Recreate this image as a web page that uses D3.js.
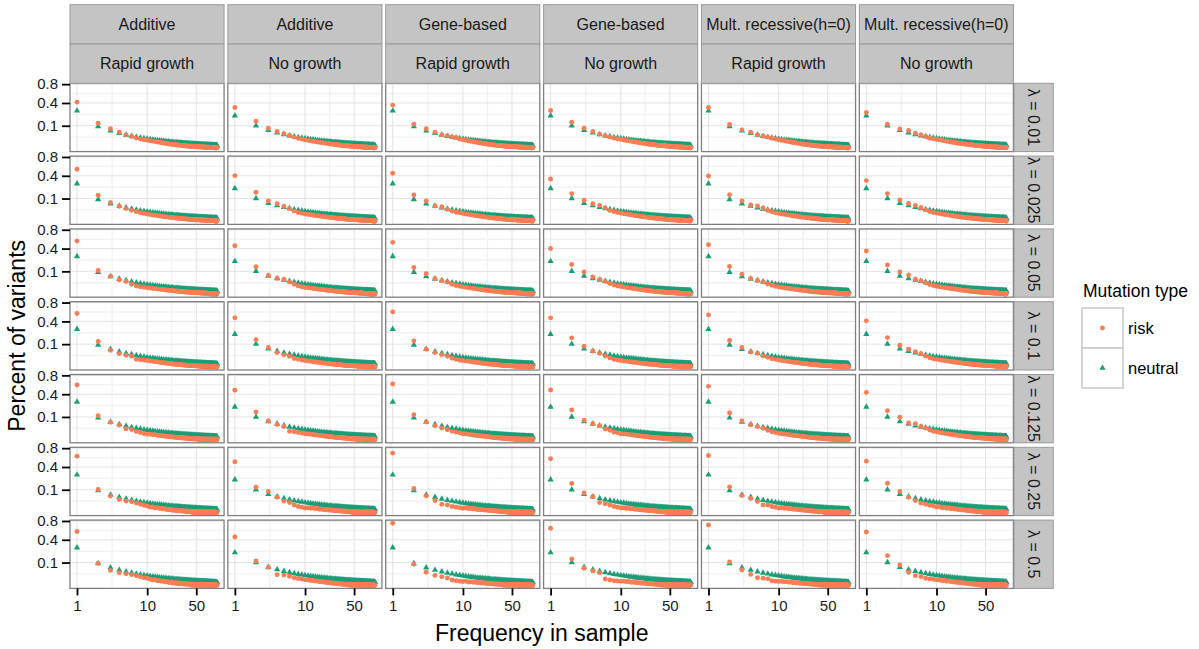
<!DOCTYPE html>
<html>
<head>
<meta charset="utf-8">
<script src="https://cdn.jsdelivr.net/npm/d3@7"></script>
<style>
  body { margin: 0; background: #fff; }
  svg { display: block; font-family: "Liberation Sans", Arial, Helvetica, sans-serif; }
</style>
</head>
<body>
<div id="chart"></div>
<script>
// facet labels
var models = ["Additive", "Additive", "Gene-based", "Gene-based", "Mult. recessive(h=0)", "Mult. recessive(h=0)"];
var growth = ["Rapid growth", "No growth", "Rapid growth", "No growth", "Rapid growth", "No growth"];
var lambdas = ["0.01", "0.025", "0.05", "0.1", "0.125", "0.25", "0.5"];
var types = ["risk", "neutral"];
var xTicks = [1, 10, 50];
var yTicks = [0.1, 0.4, 0.8];

// share of variants x 10000, first value = frequency 1
var neutralRapid = [2750,930,605,450,360,298,255,222,197,177, 161,147,136,126,117,110,103,98,92,88, 84,80,77,73,70,68,65,63,61,59, 57,55,53,52,50,49,48,46,45,44, 43,42,41,40,39,38,37,37,36,35, 34,34,33,33,32,31,31,30,30,29, 29,28,28,27,27,26,26,26,25,25, 25,24,24,24,23,23,23,22,22,22, 21,21,21,21,20,20,20,20,19,19, 19,19,19,18,18,18,18,18,17];
var neutralNoGrowth = [2080,1010,640,480,385,320,275,240,214,193, 175,161,148,138,129,121,113,107,102,97, 92,88,84,80,77,74,71,69,67,64, 62,60,58,57,55,54,52,51,49,48, 47,46,45,44,43,42,41,40,39,39, 38,37,36,36,35,34,34,33,33,32, 32,31,31,30,30,29,29,28,28,28, 27,27,26,26,26,25,25,25,24,24, 24,23,23,23,23,22,22,22,22,21, 21,21,21,20,20,20,20,20,19];

// risk variants x 10000, one row per lambda
var riskAdditiveRapid = [
  [4160,1240,750,510,360,280,210,170,150,135, 118,104,92,82,73,65,58,52,47,43, 39,36,33,30,28,26,24,22,21,19, 18,17,16,15,14,13,12,12,11,10, 10,9,9,8,8,8,7,7,7,6, 6,6,6,5,5,5,5,5,4,4, 4,4,4,4,4,3,3,3,3,3, 3,3,3,3,3,3,2,2,2,2, 2,2,2,2,2,2,2,2,2,2, 2,1,1,1,1,1,1,1,1],
  [5230,1310,670,430,310,230,180,145,120,100, 88,78,70,62,56,50,45,41,37,34, 31,28,26,24,22,20,19,17,16,15, 14,13,12,11,11,10,9,9,8,8, 7,7,7,6,6,6,5,5,5,5, 4,4,4,4,4,3,3,3,3,3, 3,3,3,2,3,2,2,2,2,2, 2,2,2,2,1,2,1,1,2,1, 1,1,1,1,1,1,1,1,1,1, 1,1,0,1,1,0,1,0,1],
  [5430,1080,620,400,310,190,125,105,90,75, 70,62,58,50,47,41,40,34,31,29, 26,25,22,21,19,18,16,15,14,13, 12,12,11,10,9,9,8,8,7,7, 6,6,6,5,5,5,4,4,4,4, 3,4,3,3,3,3,2,3,2,2, 2,2,2,2,2,1,2,1,1,2, 1,1,1,1,1,1,1,0,1,1, 1,0,1,0,1,0,1,0,0,1, 0,1,0,0,1,0,0,0,1],
  [5500,1240,540,340,260,220,110,100,90,80, 68,62,52,48,40,37,32,30,26,24, 21,20,17,16,14,14,12,11,10,9, 9,8,7,7,6,6,5,5,4,4, 4,4,3,3,3,3,2,3,2,2, 2,2,2,1,2,1,1,2,1,1, 1,1,1,0,1,1,0,1,0,1, 0,1,0,0,1,0,0,1,0,0, 1,0,0,0,1,0,0,0,0,1, 0,0,0,1,0,0,0,0,0],
  [5790,1110,580,420,230,200,130,100,75,55, 60,48,50,38,36,30,28,22,24,18, 17,16,13,14,11,10,10,8,9,7, 6,7,5,6,4,5,4,3,4,3, 3,2,3,2,2,3,1,2,1,2, 1,1,2,1,0,1,1,0,1,1, 0,1,0,1,0,0,1,0,0,1, 0,0,1,0,0,0,1,0,0,0, 1,0,0,0,0,1,0,0,0,0, 0,1,0,0,0,0,0,1,0],
  [6140,1020,530,330,250,220,170,130,100,80, 55,60,40,46,30,35,22,28,18,20, 14,16,10,12,8,11,6,9,5,7, 4,6,3,5,2,4,3,2,1,3, 2,1,2,0,1,2,0,1,0,1, 2,0,0,1,0,1,0,0,2,0, 0,1,0,0,0,1,0,0,1,0, 0,0,1,0,0,0,0,1,0,0, 0,1,0,0,0,0,1,0,0,0, 0,0,1,0,0,0,0,0,0],
  [5580,940,430,310,260,220,180,145,110,95, 70,55,60,40,45,30,35,22,28,18, 15,20,10,14,8,12,6,10,5,9, 4,7,3,6,2,5,3,4,1,3, 2,3,0,2,1,0,2,0,1,0, 0,2,0,1,0,0,1,0,0,2, 0,0,1,0,0,0,1,0,0,0, 1,0,0,0,0,1,0,0,0,0, 0,0,1,0,0,0,0,0,1,0, 0,0,0,0,1,0,0,0,0]
];
var riskAdditiveNoGrowth = [
  [3250,1440,800,560,420,330,250,200,170,145, 128,113,101,91,82,74,67,61,56,51, 47,43,40,37,34,32,30,28,26,24, 23,21,20,19,18,17,16,15,14,13, 13,12,11,11,10,10,9,9,8,8, 8,7,7,7,6,6,6,6,5,5, 5,5,5,4,4,4,4,4,4,3, 3,3,3,3,3,3,3,3,2,2, 2,2,2,2,2,2,2,2,2,2, 2,2,1,1,1,1,1,1,1],
  [4030,1630,800,600,420,310,200,150,125,100, 92,82,74,66,60,54,49,44,40,37, 34,31,28,26,24,22,21,19,18,17, 15,14,14,13,12,11,10,10,9,9, 8,8,7,7,7,6,6,6,5,5, 5,5,4,4,4,4,4,3,3,3, 3,3,3,3,2,2,2,2,2,2, 2,2,2,2,2,1,2,1,1,1, 1,1,1,1,1,1,1,1,1,1, 1,1,1,0,1,1,0,1,0],
  [4520,1440,670,490,420,280,190,130,105,85, 78,70,62,56,50,46,41,38,34,31, 28,26,24,22,20,19,17,16,15,14, 13,12,11,10,10,9,8,8,7,7, 6,6,6,5,5,5,4,4,4,4, 3,3,3,3,3,3,2,2,2,2, 2,2,2,2,1,2,1,1,1,1, 1,1,1,1,1,1,1,0,1,1, 0,1,1,0,1,0,1,0,1,0, 0,1,0,0,1,0,0,1,0],
  [4650,1440,730,400,280,220,135,110,90,75, 66,60,52,47,42,38,34,30,27,25, 22,20,18,17,15,14,13,12,11,10, 9,8,8,7,6,6,5,5,5,4, 4,4,3,3,3,3,3,2,2,2, 2,2,2,2,1,2,1,1,1,1, 1,1,1,1,1,0,1,1,0,1, 0,1,0,1,0,0,1,0,0,1, 0,0,1,0,0,0,1,0,0,0, 1,0,0,0,0,1,0,0,0],
  [4710,1480,670,450,340,135,120,100,85,70, 64,56,52,44,42,36,34,28,27,23, 21,19,17,16,14,13,12,10,10,9, 8,8,7,6,6,5,5,4,4,3, 3,3,3,2,2,2,2,2,1,2, 1,1,1,2,1,0,1,1,0,1, 1,0,1,0,0,1,0,1,0,0, 1,0,0,0,1,0,0,0,1,0, 0,0,0,1,0,0,0,0,1,0, 0,0,0,0,1,0,0,0,0],
  [4970,1240,850,450,250,190,110,70,55,40, 45,34,38,26,30,20,24,16,19,13, 15,11,13,9,10,7,9,6,7,5, 6,4,5,3,4,3,3,2,3,2, 2,1,2,1,1,2,0,1,1,0, 1,0,1,0,2,0,0,1,0,0, 1,0,0,0,1,0,0,0,0,1, 0,0,0,1,0,0,0,0,1,0, 0,0,0,0,0,1,0,0,0,0, 1,0,0,0,0,0,0,0,0],
  [4520,1140,620,220,200,160,110,90,75,60, 52,44,46,34,36,26,28,20,22,15, 16,12,13,9,10,7,8,5,6,4, 5,3,4,2,3,2,3,1,2,1, 2,0,1,1,0,2,0,1,0,1, 0,0,1,0,0,2,0,0,0,1, 0,0,0,1,0,0,0,1,0,0, 0,1,0,0,0,0,0,1,0,0, 0,0,0,0,1,0,0,0,0,0, 0,1,0,0,0,0,0,0,0]
];
var riskGeneRapid = [
  [3640,1140,750,510,360,310,250,230,175,150, 130,114,100,89,79,71,63,57,51,46, 42,38,35,32,30,27,25,23,22,20, 19,18,17,16,15,14,13,12,12,11, 10,10,9,9,8,8,8,7,7,7, 6,6,6,6,5,5,5,5,5,4, 4,4,4,4,4,4,3,3,3,3, 3,3,3,3,3,3,3,2,2,2, 2,2,2,2,2,2,2,2,2,2, 2,2,1,1,1,1,1,1,1],
  [4460,1340,800,450,400,280,200,160,140,120, 104,92,82,73,66,59,53,48,43,39, 36,33,30,27,25,23,21,20,18,17, 16,15,14,13,12,11,10,10,9,9, 8,8,7,7,7,6,6,6,5,5, 5,5,4,4,4,4,4,3,3,3, 3,3,3,3,2,2,2,2,2,2, 2,2,2,2,2,2,1,1,1,1, 1,1,1,1,1,1,1,1,1,1, 1,1,1,1,0,1,1,0,1],
  [5170,1370,800,470,340,280,190,140,120,100, 88,78,69,62,55,49,44,40,36,32, 29,27,24,22,20,19,17,16,15,14, 13,12,11,10,9,9,8,8,7,7, 6,6,6,5,5,5,4,4,4,4, 4,3,3,3,3,3,3,2,2,2, 2,2,2,2,2,2,1,2,1,1, 1,1,1,1,1,1,1,1,1,1, 1,0,1,1,0,1,0,1,0,1, 0,1,0,0,1,0,0,1,0],
  [5850,1310,600,400,290,220,145,110,85,77, 68,60,53,47,42,37,33,29,26,23, 21,19,17,15,14,13,12,11,10,9, 8,8,7,6,6,5,5,5,4,4, 4,3,3,3,3,3,2,2,2,2, 2,2,2,1,2,1,1,1,1,1, 1,1,1,1,0,1,1,0,1,0, 1,0,1,0,0,1,0,0,1,0, 0,1,0,0,0,1,0,0,0,1, 0,0,0,0,1,0,0,0,0],
  [5990,1210,600,380,260,190,134,110,90,70, 62,55,49,43,39,34,31,27,25,22, 20,18,16,15,13,12,11,10,9,8, 7,7,6,6,5,5,4,4,4,3, 3,3,3,2,2,2,2,2,2,1, 2,1,1,1,1,1,1,0,1,1, 0,1,1,0,1,0,0,1,0,0, 1,0,0,0,1,0,0,0,1,0, 0,0,0,1,0,0,0,0,1,0, 0,0,0,0,0,1,0,0,0],
  [6810,1110,540,280,134,110,70,55,45,35, 38,30,32,24,26,18,21,14,16,11, 13,9,11,7,9,6,7,5,6,4, 5,3,4,2,3,2,3,1,2,1, 2,1,1,0,1,1,0,2,0,1, 0,1,0,0,1,0,0,1,0,0, 2,0,0,0,1,0,0,0,0,1, 0,0,0,1,0,0,0,0,1,0, 0,0,0,0,0,1,0,0,0,0, 0,0,1,0,0,0,0,0,0],
  [7450,850,330,190,145,104,55,39,32,28, 30,22,25,17,20,13,15,10,12,8, 10,6,8,5,7,4,5,3,4,2, 3,2,3,1,2,1,2,0,1,1, 0,2,0,1,0,0,1,0,1,0, 0,0,1,0,0,0,2,0,0,0, 1,0,0,0,0,1,0,0,0,0, 0,1,0,0,0,0,0,1,0,0, 0,0,0,1,0,0,0,0,0,0, 1,0,0,0,0,0,0,0,0]
];
var riskGeneNoGrowth = [
  [2800,1340,800,560,400,310,250,210,180,160, 140,124,111,100,90,81,74,67,61,56, 51,47,44,41,38,35,33,31,29,27, 25,24,22,21,20,19,18,17,16,15, 14,14,13,12,12,11,11,10,10,9, 9,8,8,8,7,7,7,6,6,6, 6,5,5,5,5,5,4,4,4,4, 4,4,3,3,3,3,3,3,3,3, 3,2,2,2,2,2,2,2,2,2, 2,2,2,2,2,1,2,1,1],
  [3470,1480,850,600,490,360,230,180,150,130, 114,101,90,81,73,65,59,53,48,44, 40,37,34,31,29,27,25,23,21,20, 18,17,16,15,14,13,12,12,11,10, 10,9,9,8,8,7,7,7,6,6, 6,5,5,5,5,4,4,4,4,4, 3,3,3,3,3,3,3,2,2,2, 2,2,2,2,2,2,2,2,1,1, 1,1,1,1,1,1,1,1,1,1, 1,1,1,1,1,1,0,1,1],
  [4030,1700,950,560,420,310,220,160,130,110, 96,85,76,68,61,55,49,44,40,36, 33,30,27,25,23,21,19,18,17,15, 14,13,12,11,11,10,9,9,8,8, 7,7,6,6,6,5,5,5,5,4, 4,4,4,3,3,3,3,3,3,2, 2,2,2,2,2,2,2,1,2,1, 1,1,1,1,1,1,1,1,1,1, 1,1,0,1,1,0,1,1,0,1, 0,1,0,1,0,0,1,0,0],
  [4650,1630,830,490,360,230,157,110,90,77, 68,61,54,48,43,39,35,31,28,25, 23,21,19,17,15,14,13,12,11,10, 9,8,8,7,7,6,6,5,5,4, 4,4,4,3,3,3,3,2,2,2, 2,2,2,2,1,2,1,1,1,1, 1,1,1,1,1,0,1,1,0,1, 0,1,0,1,0,1,0,0,1,0, 0,1,0,0,1,0,0,0,1,0, 0,0,1,0,0,0,0,1,0],
  [4770,1700,730,490,380,220,170,110,90,70, 66,57,54,45,43,37,35,29,28,24, 22,20,18,16,15,13,12,11,10,9, 8,8,7,6,6,5,5,4,4,4, 3,3,3,3,2,2,2,2,2,1, 2,1,1,1,1,1,1,0,1,1, 0,1,1,0,1,0,0,1,0,1, 0,0,1,0,0,1,0,0,0,1, 0,0,0,1,0,0,0,0,1,0, 0,0,0,1,0,0,0,0,0],
  [5580,1630,730,490,190,145,110,70,55,40, 42,32,35,25,28,19,22,15,17,12, 14,10,12,8,9,6,8,5,6,4, 5,3,4,2,3,2,3,1,2,1, 2,1,1,0,1,2,0,1,0,1, 0,1,0,0,1,0,1,0,0,0, 1,0,0,1,0,0,0,0,1,0, 0,0,1,0,0,0,0,0,0,1, 0,0,0,0,1,0,0,0,0,0, 0,1,0,0,0,0,0,0,0],
  [6280,1340,560,400,310,77,55,39,35,30, 33,24,27,18,21,14,16,11,13,8, 10,7,8,5,6,4,5,3,4,2, 3,2,2,1,2,1,1,0,1,1, 0,1,0,1,0,0,1,0,0,1, 0,0,0,1,0,0,0,0,1,0, 0,0,1,0,0,0,0,0,0,1, 0,0,0,0,1,0,0,0,0,0, 0,1,0,0,0,0,0,0,0,0, 0,0,0,0,1,0,0,0,0]
];
var riskRecessiveRapid = [
  [3250,1110,670,510,360,290,250,200,170,150, 131,115,101,90,80,71,64,57,51,46, 42,38,35,32,29,27,25,23,21,20, 18,17,16,15,14,13,12,12,11,10, 10,9,9,8,8,8,7,7,7,6, 6,6,6,5,5,5,5,5,4,4, 4,4,4,4,4,3,3,3,3,3, 3,3,3,3,3,3,3,2,2,2, 2,2,2,2,2,2,2,2,2,2, 2,2,1,1,1,1,1,1,1],
  [3980,1370,800,510,450,340,230,170,140,120, 105,93,83,74,66,59,53,48,44,40, 36,33,30,28,25,23,22,20,18,17, 16,15,14,13,12,11,10,10,9,8, 8,8,7,7,6,6,6,5,5,5, 5,4,4,4,4,4,3,3,3,3, 3,3,3,2,2,2,2,2,2,2, 2,2,2,2,1,2,1,1,1,1, 1,1,1,1,1,1,1,1,1,1, 1,1,1,0,1,1,0,1,0],
  [4710,1480,770,470,360,290,200,150,120,100, 87,77,68,61,55,49,44,40,36,33, 30,27,25,23,21,19,18,16,15,14, 13,12,11,10,10,9,8,8,7,7, 6,6,6,5,5,5,5,4,4,4, 4,3,3,3,3,3,3,2,2,2, 2,2,2,2,2,2,1,2,1,1, 1,1,1,1,1,1,1,1,1,1, 1,1,0,1,1,0,1,0,1,0, 1,0,0,1,0,0,1,0,0],
  [5230,1340,730,430,360,230,180,130,110,90, 79,70,62,55,49,44,39,35,32,29, 26,24,21,19,18,16,15,13,12,11, 10,10,9,8,8,7,7,6,6,5, 5,5,4,4,4,4,3,3,3,3, 3,2,2,2,2,2,2,2,1,2, 1,1,1,1,1,1,1,1,1,0, 1,1,0,1,0,1,0,1,0,1, 0,0,1,0,1,0,0,1,0,0, 1,0,0,0,1,0,0,0,0],
  [5500,1370,670,430,330,250,169,120,100,80, 70,62,55,49,43,39,35,31,28,25, 22,20,18,16,15,13,12,11,10,9, 8,8,7,6,6,5,5,5,4,4, 4,3,3,3,3,2,2,2,2,2, 2,1,2,1,1,1,1,1,1,1, 1,0,1,1,0,1,0,1,0,1, 0,1,0,0,1,0,0,1,0,0, 0,1,0,0,0,1,0,0,0,1, 0,0,0,1,0,0,0,0,1],
  [6280,1270,560,380,230,110,105,70,55,40, 44,34,37,27,30,21,24,16,19,13, 15,11,12,8,10,7,8,5,6,4, 5,3,4,2,3,2,3,1,2,1, 2,1,1,2,0,1,1,0,1,0, 1,0,0,2,0,0,1,0,0,1, 0,0,0,1,0,0,0,1,0,0, 0,1,0,0,0,0,1,0,0,0, 0,0,0,1,0,0,0,0,0,0, 1,0,0,0,0,0,0,0,0],
  [7050,1050,450,230,110,94,80,39,33,28, 31,23,26,17,20,13,15,10,12,8, 9,6,8,5,6,4,5,3,4,2, 3,2,2,1,2,1,1,0,1,1, 0,1,0,1,0,0,2,0,0,1, 0,0,0,1,0,0,0,1,0,0, 0,0,1,0,0,0,0,0,1,0, 0,0,0,0,1,0,0,0,0,0, 1,0,0,0,0,0,0,0,0,1, 0,0,0,0,0,0,1,0,0]
];
var riskRecessiveNoGrowth = [
  [2510,1140,730,620,450,360,280,200,180,160, 142,126,113,102,92,83,76,69,63,58, 53,49,45,42,39,36,34,32,30,28, 26,24,23,22,20,19,18,17,16,15, 15,14,13,13,12,12,11,10,10,10, 9,9,8,8,8,7,7,7,6,6, 6,6,5,5,5,5,5,4,4,4, 4,4,4,3,3,3,3,3,3,3, 3,3,2,2,2,2,2,2,2,2, 2,2,2,2,2,2,1,2,1],
  [3200,1480,870,620,490,360,250,180,150,130, 115,102,91,82,74,66,60,54,49,45, 41,38,35,32,30,27,25,24,22,20, 19,18,17,16,15,14,13,12,11,11, 10,10,9,9,8,8,7,7,7,6, 6,6,5,5,5,5,4,4,4,4, 4,3,3,3,3,3,3,3,2,2, 2,2,2,2,2,2,2,2,2,1, 2,1,1,1,1,1,1,1,1,1, 1,1,1,1,1,1,1,1,0],
  [3580,1630,950,700,430,340,250,180,140,120, 105,93,83,74,66,60,54,49,44,40, 36,33,30,28,25,23,22,20,18,17, 16,15,14,13,12,11,10,10,9,8, 8,8,7,7,6,6,6,5,5,5, 5,4,4,4,4,4,3,3,3,3, 3,3,2,2,2,2,2,2,2,2, 2,2,2,1,2,1,1,1,1,1, 1,1,1,1,1,1,1,1,1,1, 1,0,1,1,0,1,0,1,0],
  [4100,1660,900,600,450,330,230,160,130,110, 96,85,76,68,61,55,50,45,41,37, 34,31,28,26,24,22,20,19,17,16, 15,14,13,12,11,10,10,9,8,8, 7,7,7,6,6,5,5,5,5,4, 4,4,4,3,3,3,3,3,3,2, 2,2,2,2,2,2,2,2,1,2, 1,1,1,1,1,1,1,1,1,1, 1,1,0,1,1,0,1,1,0,1, 0,1,0,1,0,1,0,0,1],
  [4330,1630,980,540,490,340,260,180,140,120, 101,92,78,72,62,58,50,47,41,38, 34,31,28,26,23,22,20,18,17,15, 14,13,12,11,10,10,9,8,8,7, 7,6,6,5,5,5,5,4,4,4, 4,3,3,3,3,3,2,3,2,2, 2,2,2,2,1,2,1,1,1,1, 1,1,1,1,1,1,0,1,1,0, 1,0,1,0,1,0,1,0,0,1, 0,1,0,0,1,0,0,1,0],
  [5100,1660,850,450,280,169,134,100,80,60, 62,45,50,36,40,28,32,22,25,17, 20,14,16,11,13,9,10,7,8,6, 7,4,5,3,4,3,3,2,3,1, 2,1,2,1,1,0,2,1,0,1, 1,0,0,1,0,2,0,0,1,0, 0,1,0,0,0,1,0,0,0,1, 0,0,1,0,0,0,0,1,0,0, 0,0,0,0,1,0,0,0,0,0, 1,0,0,0,0,0,0,0,0],
  [5500,1700,800,330,180,145,94,80,70,60, 55,40,46,32,36,25,28,19,22,15, 17,12,14,9,11,7,9,6,7,4, 5,3,4,2,3,2,3,1,2,1, 2,0,1,1,0,2,0,1,0,0, 1,0,0,1,0,0,2,0,0,0, 0,1,0,0,0,0,1,0,0,0, 1,0,0,0,0,0,0,1,0,0, 0,0,0,0,1,0,0,0,0,0, 0,0,1,0,0,0,0,0,0]
];

var riskByCol = [riskAdditiveRapid, riskAdditiveNoGrowth, riskGeneRapid, riskGeneNoGrowth, riskRecessiveRapid, riskRecessiveNoGrowth];
var neutralByCol = [neutralRapid, neutralNoGrowth, neutralRapid, neutralNoGrowth, neutralRapid, neutralNoGrowth];

var colors = { risk: "#f97d55", neutral: "#1b9e77" };
var textColor = "#1a1a1a";

var svg = d3.select("#chart").append("svg")
    .attr("width", 1199)
    .attr("height", 649);

// facet grid
var col = d3.scaleBand().domain(d3.range(models.length)).range([70, 1013.4]).paddingInner(0.024);
var row = d3.scaleBand().domain(d3.range(lambdas.length)).range([83.3, 588.4]).paddingInner(0.062);
var pw = col.bandwidth(), ph = row.bandwidth();

// shared scales, 5% expansion like ggplot (log x, sqrt y)
var nMax = d3.max(riskByCol, function(c) { return d3.max(c, function(r) { return r.length; }); });
var lx = Math.log10(nMax), padX = 0.05 * lx;
var x = d3.scaleLog().domain([Math.pow(10, -padX), Math.pow(10, lx + padX)]).range([0, pw]);

var allVals = d3.merge(riskByCol.map(function(c) { return d3.merge(c); })).concat(neutralRapid, neutralNoGrowth);
var sMax = Math.sqrt(d3.max(allVals) / 1e4), padY = 0.05 * sMax;
var y = d3.scaleSqrt().domain([-padY * padY, Math.pow(sMax + padY, 2)]).range([ph, 0]);

// minor breaks sit halfway between majors in transformed space
var xMinor = d3.pairs(xTicks).map(function(p) { return Math.sqrt(p[0] * p[1]); });
var yMinor = d3.pairs([0].concat(yTicks)).map(function(p) { return Math.pow((Math.sqrt(p[0]) + Math.sqrt(p[1])) / 2, 2); });

var circle = d3.symbol().type(d3.symbolCircle).size(19)();
var triangle = d3.symbol().type(d3.symbolTriangle).size(17)();

riskByCol.forEach(function(colData, c) {
  colData.forEach(function(riskVals, r) {
    var g = svg.append("g")
        .attr("transform", "translate(" + col(c) + "," + row(r) + ")");

    g.append("rect").attr("width", pw).attr("height", ph).attr("fill", "#fff");

    // grid
    g.selectAll(".xminor").data(xMinor).enter().append("line")
        .attr("x1", function(d) { return x(d); }).attr("x2", function(d) { return x(d); })
        .attr("y1", 0).attr("y2", ph)
        .attr("stroke", "#f2f2f2").attr("stroke-width", 1.4);
    g.selectAll(".yminor").data(yMinor).enter().append("line")
        .attr("x1", 0).attr("x2", pw)
        .attr("y1", function(d) { return y(d); }).attr("y2", function(d) { return y(d); })
        .attr("stroke", "#f2f2f2").attr("stroke-width", 1.4);
    g.selectAll(".xmajor").data(xTicks).enter().append("line")
        .attr("x1", function(d) { return x(d); }).attr("x2", function(d) { return x(d); })
        .attr("y1", 0).attr("y2", ph)
        .attr("stroke", "#e2e2e2").attr("stroke-width", 1);
    g.selectAll(".ymajor").data(yTicks).enter().append("line")
        .attr("x1", 0).attr("x2", pw)
        .attr("y1", function(d) { return y(d); }).attr("y2", function(d) { return y(d); })
        .attr("stroke", "#e2e2e2").attr("stroke-width", 1);

    var neutralPts = neutralByCol[c].map(function(v, i) { return { x: i + 1, y: v / 1e4 }; });
    var riskPts = riskVals.map(function(v, i) { return { x: i + 1, y: v / 1e4 }; });

    g.selectAll(".neutral").data(neutralPts).enter().append("path")
        .attr("d", triangle)
        .attr("transform", function(d) { return "translate(" + x(d.x) + "," + y(d.y) + ")"; })
        .attr("fill", colors.neutral);
    g.selectAll(".risk").data(riskPts).enter().append("path")
        .attr("d", circle)
        .attr("transform", function(d) { return "translate(" + x(d.x) + "," + y(d.y) + ")"; })
        .attr("fill", colors.risk);

    g.append("rect")
        .attr("width", pw).attr("height", ph)
        .attr("fill", "none").attr("stroke", "#7f7f7f").attr("stroke-width", 1.3);

    // axes on the outer panels only
    if (c === 0) {
      var ay = g.append("g").call(d3.axisLeft(y).tickValues(yTicks).tickFormat(d3.format(".1f")).tickSize(8).tickPadding(4));
      ay.select(".domain").remove();
      ay.selectAll("line").attr("stroke", "#000").attr("stroke-width", 1.8);
      ay.selectAll("text").attr("fill", textColor).style("font-size", "15px");
    }
    if (r === lambdas.length - 1) {
      var ax = g.append("g").attr("transform", "translate(0," + ph + ")")
          .call(d3.axisBottom(x).tickValues(xTicks).tickFormat(d3.format("d")).tickSize(7).tickPadding(5));
      ax.select(".domain").remove();
      ax.selectAll("line").attr("stroke", "#000").attr("stroke-width", 1.8);
      ax.selectAll("text").attr("fill", textColor).style("font-size", "15px");
    }
  });
});

// top strips
var stripH = 39.3;
[models, growth].forEach(function(labels, k) {
  var top = 83.3 - stripH * (2 - k);
  var s = svg.selectAll(".strip" + k).data(labels).enter().append("g")
      .attr("transform", function(d, i) { return "translate(" + col(i) + "," + top + ")"; });
  s.append("rect").attr("width", pw).attr("height", stripH)
      .attr("fill", "#c4c4c4").attr("stroke", "#9a9a9a").attr("stroke-width", 1);
  s.append("text").attr("x", pw / 2).attr("y", stripH / 2).attr("dy", "0.35em")
      .attr("text-anchor", "middle").attr("fill", textColor).style("font-size", "16px")
      .text(function(d) { return d; });
});

// right strips
var rs = svg.selectAll(".rstrip").data(lambdas).enter().append("g")
    .attr("transform", function(d, i) { return "translate(1014," + row(i) + ")"; });
rs.append("rect").attr("width", stripH).attr("height", ph)
    .attr("fill", "#c4c4c4").attr("stroke", "#9a9a9a").attr("stroke-width", 1);
rs.append("text")
    .attr("transform", "translate(" + (stripH / 2) + "," + (ph / 2) + ") rotate(90)")
    .attr("dy", "0.35em").attr("text-anchor", "middle")
    .attr("fill", textColor).style("font-size", "16px")
    .text(function(d) { return "\u03bb = " + d; });

// axis titles
svg.append("text")
    .attr("x", (70 + 1013.4) / 2).attr("y", 641)
    .attr("text-anchor", "middle").attr("fill", "#000").style("font-size", "23px")
    .text("Frequency in sample");
svg.append("text")
    .attr("transform", "translate(25," + (83.3 + 588.4) / 2 + ") rotate(-90)")
    .attr("text-anchor", "middle").attr("fill", "#000").style("font-size", "23px")
    .text("Percent of variants");

// legend
var legend = svg.append("g").attr("transform", "translate(1082,308)");
legend.append("text").attr("x", 1).attr("y", -11)
    .attr("fill", "#000").style("font-size", "17.5px").text("Mutation type");
var keys = legend.selectAll(".key").data(types).enter().append("g")
    .attr("transform", function(d, i) { return "translate(0," + (i * 40) + ")"; });
keys.append("rect").attr("width", 41).attr("height", 40)
    .attr("fill", "#fff").attr("stroke", "#c8c8c8").attr("stroke-width", 1.5);
keys.append("path")
    .attr("d", function(d) { return d === "risk" ? circle : triangle; })
    .attr("transform", "translate(20.5,20)")
    .attr("fill", function(d) { return colors[d]; });
keys.append("text").attr("x", 46).attr("y", 20).attr("dy", "0.35em")
    .attr("fill", "#000").style("font-size", "16.5px")
    .text(function(d) { return d; });
</script>
</body>
</html>
